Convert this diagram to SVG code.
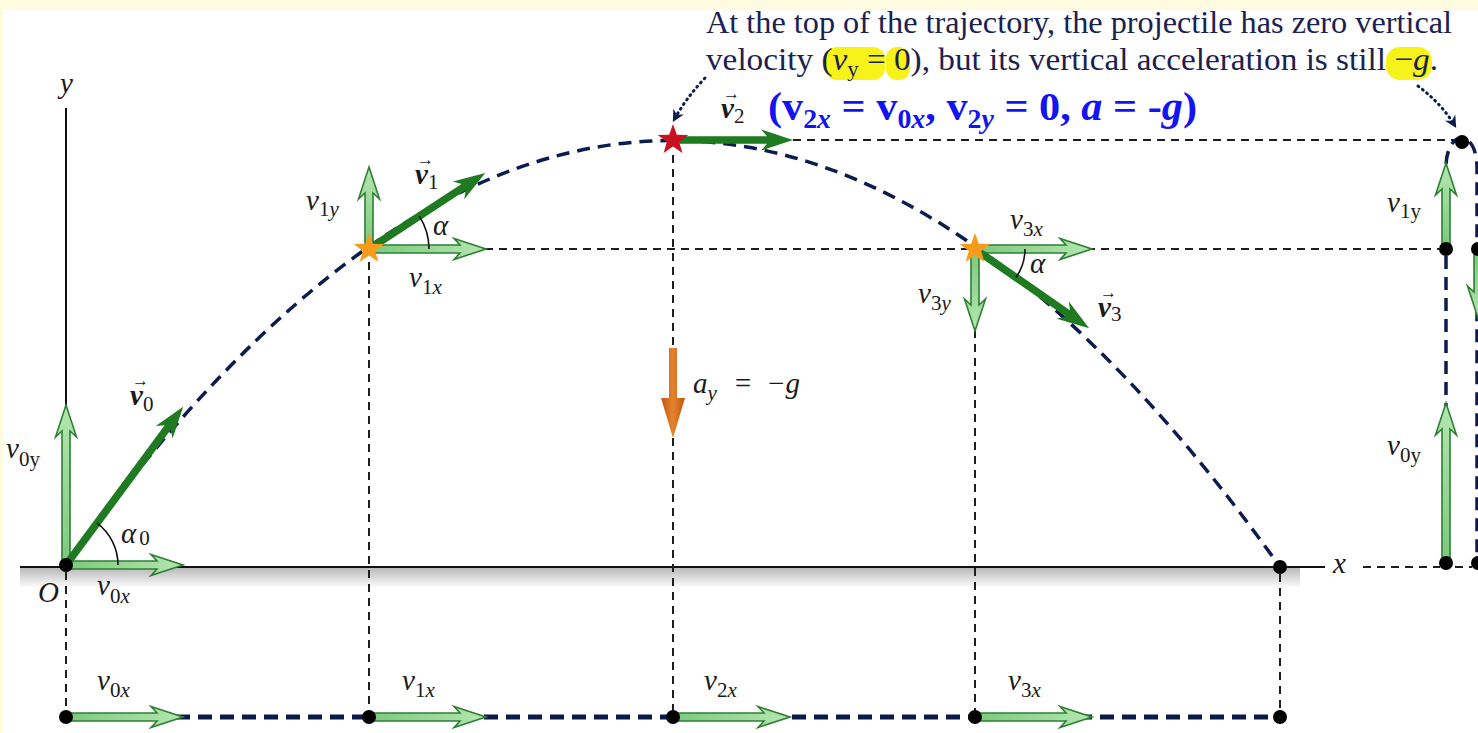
<svg xmlns="http://www.w3.org/2000/svg" xmlns:xlink="http://www.w3.org/1999/xlink" width="1478" height="733" viewBox="0 0 1478 733">
<style>
.m{font-family:"Liberation Serif",serif;font-style:italic;font-size:29px;fill:#1a1a1a}
.s{font-size:21px;font-style:normal;font-weight:normal}
.si{font-size:21px;font-style:italic;font-weight:normal}
.vb{font-family:"Liberation Serif",serif;font-style:italic;font-weight:bold;font-size:29px;fill:#1a1a1a}
.vec{font-family:"Liberation Serif",serif;font-size:17px;fill:#1a1a1a}
.top{font-family:"Liberation Serif",serif;font-size:32px;fill:#1b2150}
.blue{font-family:"Liberation Serif",serif;font-weight:bold;font-size:41px;fill:#1414f0}
.bs{font-size:27px}
.guide{stroke:#1e1e1e;stroke-width:2;stroke-dasharray:8 6;fill:none}
.traj{stroke:#0c1c4e;stroke-width:3.5;stroke-dasharray:13 8;fill:none}
.base{stroke:#0c1a48;stroke-width:5;stroke-dasharray:14 8;fill:none}
.dotted{stroke:#0c1c4e;stroke-width:3;stroke-dasharray:1 4.5;stroke-linecap:round;fill:none}
.la{fill:url(#lg);stroke:#2d7f33;stroke-width:1.6}
.da{fill:#1f7a22}
.dot{fill:#000}
.arc{stroke:#111;stroke-width:1.6;fill:none}
.hl{fill:#f6f21a}
</style>
<defs>
<linearGradient id="lg" x1="0" y1="0" x2="1" y2="0"><stop offset="0" stop-color="#7cc97c"/><stop offset="1" stop-color="#b4e6b0"/></linearGradient>
<linearGradient id="og" x1="0" y1="0" x2="1" y2="0"><stop offset="0" stop-color="#c25712"/><stop offset="0.5" stop-color="#e4832e"/><stop offset="1" stop-color="#c25712"/></linearGradient>
<linearGradient id="shade" x1="0" y1="0" x2="0" y2="1"><stop offset="0" stop-color="#b9b9b9"/><stop offset="1" stop-color="#ffffff"/></linearGradient>
<marker id="dhead" viewBox="0 0 10 10" refX="8" refY="5" markerWidth="12" markerHeight="12" markerUnits="userSpaceOnUse" orient="auto"><path d="M0,0 L10,5 L0,10 L3,5 Z" fill="#0c1c4e"/></marker>
<path id="ha117" d="M0,-4 H91 L85,-10.5 L117,0 L85,10.5 L91,4 H0 Z"/>
<path id="ha160" d="M0,-4 H134 L128,-10.5 L160,0 L128,10.5 L134,4 H0 Z"/>
<path id="ha82" d="M0,-4 H56 L50,-10.5 L82,0 L50,10.5 L56,4 H0 Z"/>
<path id="ha86" d="M0,-4 H60 L54,-10.5 L86,0 L54,10.5 L60,4 H0 Z"/>
<path id="ha64" d="M0,-4 H38 L32,-10.5 L64,0 L32,10.5 L38,4 H0 Z"/>
<path id="da197" d="M0,-3.8 H171 L165,-10.5 L197,0 L165,10.5 L171,3.8 H0 Z"/>
<path id="da139" d="M0,-3.8 H113 L107,-10.5 L139,0 L107,10.5 L113,3.8 H0 Z"/>
<path id="da120" d="M0,-3.8 H94 L88,-10.5 L120,0 L88,10.5 L94,3.8 H0 Z"/>
<path id="star" d="M0,-16 L3.82,-5.26 L15.22,-4.94 L6.18,2.01 L9.40,12.94 L0,6.5 L-9.40,12.94 L-6.18,2.01 L-15.22,-4.94 L-3.82,-5.26 Z"/>
</defs>
<rect x="0" y="0" width="1478" height="733" fill="#ffffff"/>
<rect x="0" y="0" width="1478" height="10" fill="#fffbe0"/>
<rect x="0" y="0" width="3" height="733" fill="#fffbe0"/>

<g id="axes">
<rect x="20" y="568" width="1280" height="20" fill="url(#shade)"/>
<line x1="66" y1="108" x2="66" y2="565" stroke="#111" stroke-width="2"/>
<line x1="20" y1="567" x2="1325" y2="567" stroke="#111" stroke-width="2"/>
</g>

<g id="connectors">
<path class="guide" d="M66,572 V710 M369,262 V710 M673,155 V348 M673,438 V710 M975,330 V710 M1280,574 V710"/>
<path class="guide" d="M793,140 H1455 M485,249 H1440 M1363,567 H1440 M1455,567 H1472"/>
<path class="traj" d="M66,565 Q673,-285 1280,567"/>
<path class="traj" d="M1446,563 V168 C1446,128 1477,128 1477,168 V563"/>
<line class="base" x1="66" y1="717" x2="1280" y2="717"/>
<path class="dotted" d="M705,78 Q686,98 674,120" marker-end="url(#dhead)"/>
<path class="dotted" d="M1418,86 Q1442,104 1455,126" marker-end="url(#dhead)"/>
</g>

<g id="highlights">
<rect class="hl" x="825" y="47" width="60" height="33" rx="12"/>
<rect class="hl" x="886" y="47" width="24" height="33" rx="11"/>
<rect class="hl" x="1386" y="47" width="46" height="33" rx="14"/>
</g>
<g id="note">
<text class="top" x="706" y="33" textLength="746" lengthAdjust="spacingAndGlyphs">At the top of the trajectory, the projectile has zero vertical</text>
<text class="top" x="706" y="70" textLength="732" lengthAdjust="spacingAndGlyphs">velocity (<tspan font-style="italic">v</tspan><tspan font-size="22" dy="6">y</tspan><tspan dy="-6"> = 0), but its vertical acceleration is still −</tspan><tspan font-style="italic">g</tspan>.</text>
</g>
<g id="top-label">
<text class="vec" x="723" y="99">→</text>
<text class="vb" x="721" y="118">v<tspan class="s" dy="5">2</tspan></text>
<text class="blue" x="768" y="120" textLength="429" lengthAdjust="spacingAndGlyphs">(v<tspan class="bs" dy="8">2<tspan font-style="italic">x</tspan></tspan><tspan dy="-8"> = v</tspan><tspan class="bs" dy="8">0<tspan font-style="italic">x</tspan></tspan><tspan dy="-8">, v</tspan><tspan class="bs" dy="8">2<tspan font-style="italic">y</tspan></tspan><tspan dy="-8"> = 0, </tspan><tspan font-style="italic">a</tspan> = -<tspan font-style="italic">g</tspan>)</text>
</g>

<g id="node-origin">
<use href="#ha160" class="la" transform="translate(66,565) rotate(-90)"/>
<use href="#ha117" class="la" transform="translate(66,565)"/>
<use href="#da197" class="da" transform="translate(66,565) rotate(-53.5)"/>
<path class="arc" d="M118,565 A52,52 0 0 0 97,523.2"/>
<circle class="dot" cx="66" cy="565" r="7"/>
<text class="m" x="6" y="458">v<tspan class="s" dy="8">0y</tspan></text>
<text class="vec" x="132" y="386">→</text>
<text class="vb" x="130" y="405">v<tspan class="s" dy="6">0</tspan></text>
<text class="m" x="121" y="543">α<tspan class="s" dx="3" dy="2">0</tspan></text>
<text class="m" x="38" y="602">O</text>
<text class="m" x="97" y="595">v<tspan class="s" dy="8">0</tspan><tspan class="si">x</tspan></text>
<text class="m" x="60" y="93">y</text>
</g>

<g id="node-p1">
<use href="#ha82" class="la" transform="translate(369,249) rotate(-90)"/>
<use href="#ha117" class="la" transform="translate(369,249)"/>
<use href="#da139" class="da" transform="translate(369,249) rotate(-33.2)"/>
<path class="arc" d="M429,249 A60,60 0 0 0 419.2,216.1"/>
<use href="#star" fill="#f79b1c" transform="translate(369,249)"/>
<text class="m" x="306" y="210">v<tspan class="s" dy="6">1</tspan><tspan class="si">y</tspan></text>
<text class="vec" x="417" y="165">→</text>
<text class="vb" x="415" y="184">v<tspan class="s" dy="5">1</tspan></text>
<text class="m" x="433" y="235">α</text>
<text class="m" x="409" y="287">v<tspan class="s" dy="7">1</tspan><tspan class="si">x</tspan></text>
</g>

<g id="node-p2">
<use href="#da120" class="da" transform="translate(673,140)"/>
<use href="#star" fill="#c8101e" transform="translate(673,140)"/>
</g>

<g id="node-accel">
<path d="M669,348 H677 V398 L685,398 L673,438 L661,398 L669,398 Z" fill="url(#og)"/>
<text class="m" x="693" y="393">a<tspan class="si" dy="7">y</tspan></text>
<text class="m" x="733" y="393">=</text>
<text class="m" x="766" y="393">−g</text>
</g>

<g id="node-p3">
<use href="#ha117" class="la" transform="translate(975,249)"/>
<use href="#ha82" class="la" transform="translate(975,249) rotate(90)"/>
<use href="#da139" class="da" transform="translate(975,249) rotate(34.8)"/>
<path class="arc" d="M1025,249 A50,50 0 0 1 1016,277.5"/>
<use href="#star" fill="#f79b1c" transform="translate(975,249)"/>
<text class="m" x="1010" y="229">v<tspan class="s" dy="7">3</tspan><tspan class="si">x</tspan></text>
<text class="m" x="1030" y="273">α</text>
<text class="m" x="918" y="303">v<tspan class="s" dy="7">3</tspan><tspan class="si">y</tspan></text>
<text class="vec" x="1100" y="298">→</text>
<text class="vb" x="1098" y="317">v<tspan class="s" dy="4">3</tspan></text>
</g>

<g id="node-end">
<circle class="dot" cx="1280" cy="567" r="7"/>
<text class="m" x="1333" y="573">x</text>
</g>

<g id="node-right">
<use href="#ha160" class="la" transform="translate(1446,563) rotate(-90)"/>
<use href="#ha86" class="la" transform="translate(1446,249) rotate(-90)"/>
<use href="#ha64" class="la" transform="translate(1478,254) rotate(90)"/>
<circle class="dot" cx="1462" cy="142" r="7"/>
<circle class="dot" cx="1446" cy="249" r="7"/>
<circle class="dot" cx="1478" cy="249" r="7"/>
<circle class="dot" cx="1446" cy="563" r="7"/>
<circle class="dot" cx="1478" cy="563" r="7"/>
<text class="m" x="1387" y="212">v<tspan class="s" dy="6">1y</tspan></text>
<text class="m" x="1387" y="455">v<tspan class="s" dy="7">0y</tspan></text>
</g>

<g id="node-bottom">
<use href="#ha117" class="la" transform="translate(66,717)"/>
<use href="#ha117" class="la" transform="translate(369,717)"/>
<use href="#ha117" class="la" transform="translate(673,717)"/>
<use href="#ha117" class="la" transform="translate(975,717)"/>
<circle class="dot" cx="66" cy="717" r="7"/>
<circle class="dot" cx="369" cy="717" r="7"/>
<circle class="dot" cx="673" cy="717" r="7"/>
<circle class="dot" cx="975" cy="717" r="7"/>
<circle class="dot" cx="1280" cy="717" r="7"/>
<text class="m" x="97" y="690">v<tspan class="s" dy="7">0</tspan><tspan class="si">x</tspan></text>
<text class="m" x="402" y="690">v<tspan class="s" dy="7">1</tspan><tspan class="si">x</tspan></text>
<text class="m" x="704" y="690">v<tspan class="s" dy="7">2</tspan><tspan class="si">x</tspan></text>
<text class="m" x="1008" y="690">v<tspan class="s" dy="7">3</tspan><tspan class="si">x</tspan></text>
</g>
</svg>
